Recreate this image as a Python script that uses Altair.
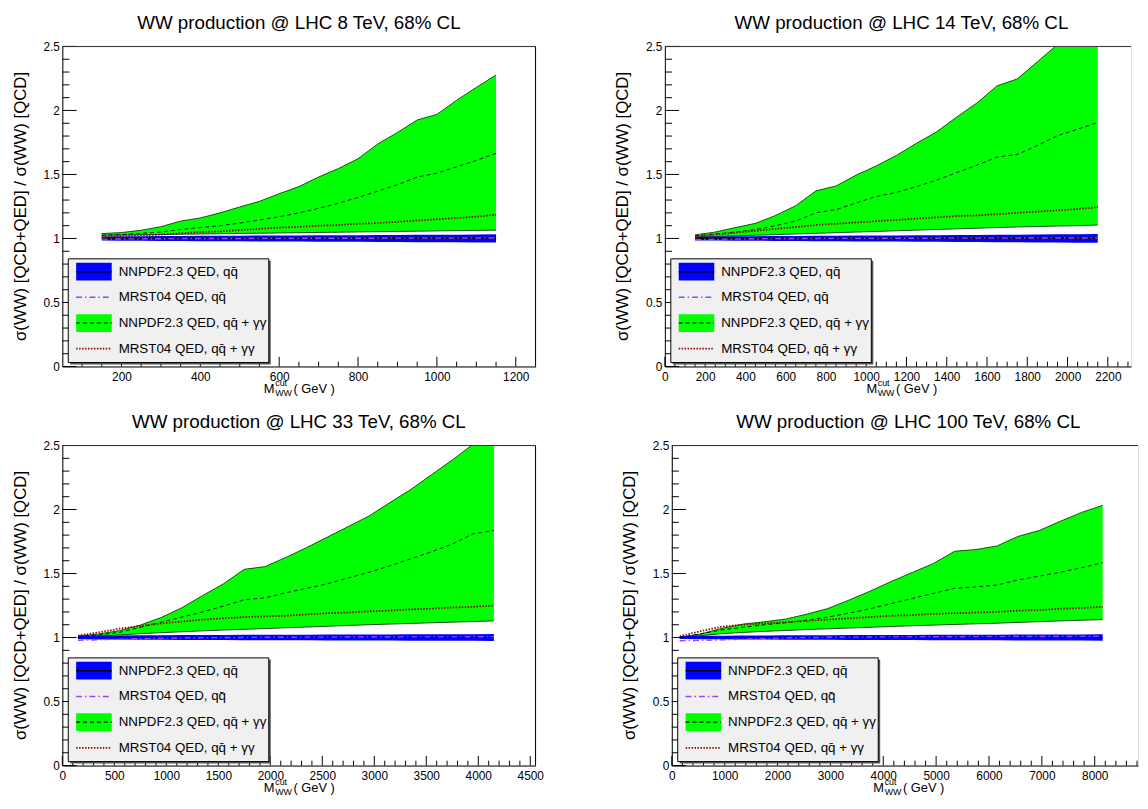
import altair as alt
import pandas as pd

FONT = "Liberation Sans"
GREEN = "#00ff00"
BLUE = "#0000ff"
PURPLE = "#a040ff"
DARKRED = "#990000"
EDGE = "#123812"

# ---------------- data ----------------
titles = ["WW production @ LHC 8 TeV, 68% CL", "WW production @ LHC 14 TeV, 68% CL",
          "WW production @ LHC 33 TeV, 68% CL", "WW production @ LHC 100 TeV, 68% CL"]

legend_labels = ["NNPDF2.3 QED, qq\u0304", "MRST04 QED, qq\u0304",
                 "NNPDF2.3 QED, qq\u0304 + \u03b3\u03b3", "MRST04 QED, qq\u0304 + \u03b3\u03b3"]

# 8 TeV
x_8 = [150, 200, 250, 300, 350, 400, 450, 500, 550, 600, 650, 700, 750, 800, 850, 900, 950, 1000, 1050, 1100, 1150]
up_8 = [1.038, 1.046, 1.064, 1.092, 1.136, 1.160, 1.200, 1.246, 1.290, 1.350, 1.405, 1.480, 1.546, 1.623, 1.738, 1.828, 1.926, 1.969, 2.080, 2.180, 2.277]
cen_8 = [1.025, 1.030, 1.040, 1.050, 1.070, 1.085, 1.100, 1.120, 1.145, 1.170, 1.200, 1.235, 1.275, 1.320, 1.370, 1.420, 1.480, 1.510, 1.560, 1.610, 1.665]
lo_8 = [1.025, 1.027, 1.029, 1.031, 1.033, 1.035, 1.037, 1.039, 1.041, 1.043, 1.045, 1.047, 1.049, 1.051, 1.053, 1.055, 1.057, 1.059, 1.061, 1.063, 1.065]
nlo_8 = [0.984, 0.983, 0.982, 0.981, 0.980, 0.979, 0.979, 0.978, 0.977, 0.976, 0.976, 0.975, 0.974, 0.974, 0.973, 0.972, 0.971, 0.971, 0.970, 0.969, 0.968]
nhi_8 = [1.016, 1.017, 1.018, 1.019, 1.020, 1.021, 1.021, 1.022, 1.023, 1.024, 1.024, 1.025, 1.026, 1.026, 1.027, 1.028, 1.029, 1.029, 1.030, 1.031, 1.032]
nc_8 = [1.0, 1.0, 1.0, 1.0, 1.0, 1.0, 1.0, 1.0, 1.0, 1.0, 1.0, 1.0, 1.0, 1.0, 1.0, 1.0, 1.0, 1.0, 1.0, 1.0, 1.0]
mq_8 = [0.995, 0.996, 0.997, 0.998, 0.999, 1.0, 1.0, 1.0, 1.001, 1.001, 1.001, 1.002, 1.002, 1.002, 1.002, 1.003, 1.003, 1.003, 1.003, 1.003, 1.004]
mg_8 = [1.015, 1.020, 1.025, 1.030, 1.040, 1.050, 1.055, 1.065, 1.075, 1.085, 1.090, 1.100, 1.105, 1.115, 1.120, 1.130, 1.140, 1.150, 1.160, 1.170, 1.185]

# 14 TeV
x_14 = [150, 250, 350, 450, 550, 650, 750, 850, 950, 1050, 1150, 1250, 1350, 1450, 1550, 1650, 1750, 1850, 1950, 2050, 2150]
up_14 = [1.028, 1.050, 1.085, 1.118, 1.180, 1.256, 1.372, 1.410, 1.495, 1.567, 1.649, 1.744, 1.833, 1.949, 2.059, 2.192, 2.246, 2.380, 2.515, 2.650, 2.790]
cen_14 = [1.020, 1.035, 1.050, 1.070, 1.100, 1.136, 1.200, 1.226, 1.277, 1.328, 1.360, 1.405, 1.456, 1.515, 1.572, 1.636, 1.656, 1.726, 1.803, 1.854, 1.905]
lo_14 = [1.010, 1.015, 1.020, 1.025, 1.030, 1.035, 1.040, 1.045, 1.050, 1.055, 1.060, 1.065, 1.070, 1.075, 1.080, 1.085, 1.090, 1.093, 1.097, 1.100, 1.105]
nlo_14 = [0.985, 0.984, 0.983, 0.982, 0.981, 0.980, 0.979, 0.978, 0.977, 0.977, 0.976, 0.975, 0.974, 0.973, 0.972, 0.971, 0.970, 0.969, 0.968, 0.967, 0.966]
nhi_14 = [1.015, 1.016, 1.017, 1.018, 1.019, 1.020, 1.021, 1.022, 1.023, 1.023, 1.024, 1.025, 1.026, 1.027, 1.028, 1.029, 1.030, 1.031, 1.032, 1.033, 1.034]
nc_14 = [1.0, 1.0, 1.0, 1.0, 1.0, 1.0, 1.0, 1.0, 1.0, 1.0, 1.0, 1.0, 1.0, 1.0, 1.0, 1.0, 1.0, 1.0, 1.0, 1.0, 1.0]
mq_14 = [0.992, 0.994, 0.996, 0.998, 0.999, 1.0, 1.0, 1.001, 1.001, 1.001, 1.002, 1.002, 1.002, 1.003, 1.003, 1.003, 1.003, 1.004, 1.004, 1.004, 1.004]
mg_14 = [1.015, 1.030, 1.045, 1.060, 1.075, 1.090, 1.105, 1.115, 1.125, 1.135, 1.145, 1.155, 1.165, 1.175, 1.180, 1.190, 1.200, 1.210, 1.220, 1.230, 1.245]

# 33 TeV
x_33 = [150, 350, 550, 750, 950, 1150, 1350, 1550, 1750, 1950, 2150, 2350, 2550, 2750, 2950, 3150, 3350, 3550, 3750, 3950, 4150]
up_33 = [1.010, 1.028, 1.054, 1.097, 1.156, 1.233, 1.328, 1.420, 1.533, 1.554, 1.626, 1.703, 1.785, 1.867, 1.950, 2.054, 2.156, 2.272, 2.387, 2.510, 2.630]
cen_33 = [1.010, 1.020, 1.040, 1.080, 1.120, 1.160, 1.200, 1.246, 1.295, 1.310, 1.350, 1.385, 1.420, 1.465, 1.510, 1.560, 1.615, 1.670, 1.730, 1.810, 1.836]
lo_33 = [1.000, 1.010, 1.020, 1.030, 1.038, 1.045, 1.052, 1.058, 1.064, 1.070, 1.076, 1.082, 1.088, 1.094, 1.100, 1.105, 1.110, 1.115, 1.120, 1.125, 1.130]
nlo_33 = [0.986, 0.985, 0.984, 0.983, 0.982, 0.981, 0.981, 0.980, 0.979, 0.979, 0.978, 0.978, 0.977, 0.977, 0.976, 0.976, 0.975, 0.975, 0.974, 0.974, 0.973]
nhi_33 = [1.014, 1.015, 1.016, 1.017, 1.018, 1.019, 1.019, 1.020, 1.021, 1.021, 1.022, 1.022, 1.023, 1.023, 1.024, 1.024, 1.025, 1.025, 1.026, 1.026, 1.027]
nc_33 = [1.0, 1.0, 1.0, 1.0, 1.0, 1.0, 1.0, 1.0, 1.0, 1.0, 1.0, 1.0, 1.0, 1.0, 1.0, 1.0, 1.0, 1.0, 1.0, 1.0, 1.0]
mq_33 = [0.978, 0.983, 0.988, 0.992, 0.995, 0.997, 0.999, 1.000, 1.001, 1.002, 1.002, 1.003, 1.003, 1.004, 1.004, 1.004, 1.005, 1.005, 1.005, 1.006, 1.006]
mg_33 = [1.015, 1.040, 1.070, 1.090, 1.110, 1.125, 1.140, 1.150, 1.160, 1.165, 1.170, 1.180, 1.190, 1.195, 1.205, 1.210, 1.220, 1.225, 1.235, 1.240, 1.250]

# 100 TeV
x_100 = [150, 550, 950, 1350, 1750, 2150, 2550, 2950, 3350, 3750, 4150, 4550, 4950, 5350, 5750, 6150, 6550, 6950, 7350, 7750, 8150]
up_100 = [1.000, 1.028, 1.072, 1.105, 1.123, 1.144, 1.182, 1.226, 1.292, 1.362, 1.438, 1.508, 1.579, 1.674, 1.687, 1.715, 1.790, 1.836, 1.908, 1.977, 2.033]
cen_100 = [1.000, 1.030, 1.060, 1.080, 1.100, 1.115, 1.135, 1.160, 1.190, 1.225, 1.265, 1.305, 1.345, 1.385, 1.395, 1.410, 1.450, 1.480, 1.510, 1.545, 1.585]
lo_100 = [1.000, 1.015, 1.030, 1.040, 1.048, 1.055, 1.062, 1.068, 1.074, 1.080, 1.086, 1.092, 1.097, 1.102, 1.107, 1.112, 1.118, 1.124, 1.130, 1.135, 1.140]
nlo_100 = [0.988, 0.987, 0.986, 0.985, 0.984, 0.983, 0.983, 0.982, 0.981, 0.981, 0.980, 0.980, 0.979, 0.979, 0.978, 0.978, 0.977, 0.977, 0.976, 0.976, 0.975]
nhi_100 = [1.012, 1.013, 1.014, 1.015, 1.016, 1.017, 1.017, 1.018, 1.019, 1.019, 1.020, 1.020, 1.021, 1.021, 1.022, 1.022, 1.023, 1.023, 1.024, 1.024, 1.025]
nc_100 = [1.0, 1.0, 1.0, 1.0, 1.0, 1.0, 1.0, 1.0, 1.0, 1.0, 1.0, 1.0, 1.0, 1.0, 1.0, 1.0, 1.0, 1.0, 1.0, 1.0, 1.0]
mq_100 = [0.975, 0.978, 0.982, 0.988, 0.993, 0.997, 1.000, 1.002, 1.003, 1.004, 1.005, 1.005, 1.006, 1.006, 1.007, 1.007, 1.008, 1.008, 1.008, 1.009, 1.009]
mg_100 = [1.010, 1.050, 1.085, 1.100, 1.110, 1.120, 1.130, 1.140, 1.150, 1.160, 1.170, 1.175, 1.185, 1.190, 1.195, 1.200, 1.210, 1.215, 1.225, 1.230, 1.240]

# axis tick values
y_major = [0, 0.5, 1, 1.5, 2, 2.5]
y_minor = [round(i * 0.1, 1) for i in range(1, 25) if i % 5 != 0]
xmaj_8 = [200, 400, 600, 800, 1000, 1200]
xmin_8 = [v for v in range(100, 1250, 50) if v % 200 != 0]
xmaj_14 = [0, 200, 400, 600, 800, 1000, 1200, 1400, 1600, 1800, 2000, 2200]
xmin_14 = [v for v in range(50, 2301, 50) if v % 200 != 0]
xmaj_33 = [0, 500, 1000, 1500, 2000, 2500, 3000, 3500, 4000, 4500]
xmin_33 = [v for v in range(100, 4501, 100) if v % 500 != 0]
xmaj_100 = [0, 1000, 2000, 3000, 4000, 5000, 6000, 7000, 8000]
xmin_100 = [v for v in range(200, 8801, 200) if v % 1000 != 0]

# ---------------- layout ----------------
H = 324
W_L = 479
W_R = 472
LEFT = 54
TOP = 33
BOTTOM = 32


def one():
    return pd.DataFrame({"k": [0]})


def txt(text, x, y, size, align="left", baseline="alphabetic", angle=None):
    kw = dict(text=text, font=FONT, fontSize=size, align=align, baseline=baseline, color="black")
    if angle is not None:
        kw["angle"] = angle
    return alt.Chart(one()).mark_text(**kw).encode(x=alt.value(x), y=alt.value(y))


def seg(x1, x2, y1, y2, color, width, dash=None, opacity=1):
    kw = dict(color=color, strokeWidth=width, opacity=opacity)
    if dash:
        kw["strokeDash"] = dash
    return alt.Chart(one()).mark_rule(**kw).encode(
        x=alt.value(x1), x2=alt.value(x2), y=alt.value(y1), y2=alt.value(y2))


def box(x1, x2, y1, y2, fill, stroke=None):
    kw = dict(color=fill, opacity=1)
    if stroke:
        kw.update(stroke=stroke, strokeWidth=1)
    return alt.Chart(one()).mark_rect(**kw).encode(
        x=alt.value(x1), x2=alt.value(x2), y=alt.value(y1), y2=alt.value(y2))


def panel(title, xs, up, cen, lo, nlo, nhi, nc, mq, mg, domain, W, xmaj, xmin, right_border):
    df = pd.DataFrame({"x": xs, "up": up, "cen": cen, "lo": lo, "nlo": nlo,
                       "nhi": nhi, "nc": nc, "mq": mq, "mg": mg})
    xscale = alt.Scale(domain=domain, nice=False, zero=False)
    yscale = alt.Scale(domain=[0, 2.5], nice=False, zero=False)
    xaxis = alt.Axis(values=xmaj, ticks=False, grid=False, domain=True, domainColor="black",
                     domainWidth=1, labelFont=FONT, labelFontSize=12, labelColor="black",
                     labelPadding=5, labelFlush=False, labelOverlap=False, format="d", title=None)
    yaxis = alt.Axis(values=y_major, ticks=False, grid=False, domain=True, domainColor="black",
                     domainWidth=1, labelFont=FONT, labelFontSize=12, labelColor="black",
                     labelPadding=3, labelFlush=False, labelOverlap=False, format="~g", title=None)

    def X(f):
        return alt.X(f"{f}:Q", scale=xscale, axis=xaxis, title=None)

    def Y(f):
        return alt.Y(f"{f}:Q", scale=yscale, axis=yaxis, title=None)

    base = alt.Chart(df)
    layers = [
        base.mark_area(color=GREEN, opacity=1, clip=True).encode(x=X("x"), y=Y("lo"), y2=alt.Y2("up")),
        base.mark_line(color=EDGE, strokeWidth=0.9, clip=True).encode(x=X("x"), y=Y("up")),
        base.mark_line(color=EDGE, strokeWidth=0.9, clip=True).encode(x=X("x"), y=Y("lo")),
        base.mark_area(color=BLUE, opacity=1, clip=True).encode(x=X("x"), y=Y("nlo"), y2=alt.Y2("nhi")),
        base.mark_line(color="black", strokeWidth=1.2, clip=True).encode(x=X("x"), y=Y("nc")),
        base.mark_line(color=PURPLE, strokeWidth=1.4, strokeDash=[6, 3, 1.5, 3], clip=True).encode(x=X("x"), y=Y("mq")),
        base.mark_line(color="black", strokeWidth=0.9, strokeDash=[4, 3], clip=True).encode(x=X("x"), y=Y("cen")),
        base.mark_line(color=DARKRED, strokeWidth=1.8, strokeDash=[1.5, 1.5], clip=True).encode(x=X("x"), y=Y("mg")),
        # inward ticks
        alt.Chart(pd.DataFrame({"v": y_major})).mark_rule(color="black", strokeWidth=1).encode(
            y=Y("v"), x=alt.value(0), x2=alt.value(14.4)),
        alt.Chart(pd.DataFrame({"v": y_minor})).mark_rule(color="black", strokeWidth=1).encode(
            y=Y("v"), x=alt.value(0), x2=alt.value(7.2)),
        alt.Chart(pd.DataFrame({"v": xmaj})).mark_rule(color="black", strokeWidth=1).encode(
            x=X("v"), y=alt.value(H), y2=alt.value(H - 9.7)),
        alt.Chart(pd.DataFrame({"v": xmin})).mark_rule(color="black", strokeWidth=1).encode(
            x=X("v"), y=alt.value(H), y2=alt.value(H - 4.9)),
        # frame top
        seg(0, W, 0, 0, "#333333", 1),
    ]
    if right_border:
        layers.append(seg(W, W, 0, H, "black", 1))

    # legend
    lx1, lx2, ly1, ly2 = 6, 209, 215, 320
    layers.append(box(lx1 + 2, lx2 + 2, ly1 + 2, ly2 + 2, "#555555"))
    layers.append(box(lx1, lx2, ly1, ly2, "#f0f0f0", stroke="black"))
    rows = [228, 254, 280, 306]
    sx1, sx2 = 14, 50
    layers.append(box(sx1, sx2, rows[0] - 9, rows[0] + 9, BLUE))
    layers.append(seg(sx1, sx2, rows[0], rows[0], "black", 1.5))
    layers.append(seg(sx1, sx2, rows[1], rows[1], PURPLE, 1.5, [6, 3, 1.5, 3]))
    layers.append(box(sx1, sx2, rows[2] - 9, rows[2] + 9, GREEN))
    layers.append(seg(sx1, sx2, rows[2], rows[2], "black", 1.1, [4, 3]))
    layers.append(seg(sx1, sx2, rows[3], rows[3], DARKRED, 1.8, [1.5, 1.5]))
    for r, lab in zip(rows, legend_labels):
        layers.append(txt(lab, 57, r, 13.5, baseline="middle"))

    # titles
    layers.append(txt(title, 239.5, -TOP, 19, align="center", baseline="top"))
    layers.append(txt("\u03c3(WW) [QCD+QED] / \u03c3(WW) [QCD]", -42, H / 2, 17,
                      align="center", baseline="middle", angle=270))
    layers.append(txt("M", 204, H + 26.5, 13))
    layers.append(txt("cut", 215.5, H + 20, 9))
    layers.append(txt("WW", 215.5, H + 30, 9))
    layers.append(txt("( GeV )", 234, H + 26.5, 13))

    # invisible bounds anchor
    layers.append(alt.Chart(one()).mark_rule(color="white", opacity=0, strokeWidth=0.01).encode(
        x=alt.value(-LEFT), x2=alt.value(W + 1), y=alt.value(-TOP), y2=alt.value(H + BOTTOM)))

    return alt.layer(*layers).properties(width=W, height=H)


px_per_unit_14 = 479 / 2350
px_per_unit_100 = 479 / 8950

p1 = panel(titles[0], x_8, up_8, cen_8, lo_8, nlo_8, nhi_8, nc_8, mq_8, mg_8,
           [50, 1250], W_L, xmaj_8, xmin_8, True)
p2 = panel(titles[1], x_14, up_14, cen_14, lo_14, nlo_14, nhi_14, nc_14, mq_14, mg_14,
           [0, W_R / px_per_unit_14], W_R, xmaj_14, xmin_14, False)
p3 = panel(titles[2], x_33, up_33, cen_33, lo_33, nlo_33, nhi_33, nc_33, mq_33, mg_33,
           [0, 4550], W_L, xmaj_33, xmin_33, True)
p4 = panel(titles[3], x_100, up_100, cen_100, lo_100, nlo_100, nhi_100, nc_100, mq_100, mg_100,
           [0, W_R / px_per_unit_100], W_R, xmaj_100, xmin_100, False)

row1 = alt.hconcat(p1, p2, spacing=74)
row2 = alt.hconcat(p3, p4, spacing=74)
chart = alt.vconcat(row1, row2, spacing=13).properties(padding=0).configure_view(stroke=None).configure(font=FONT)

chart.save("out.html", embed_options={"renderer": "svg", "actions": False})
